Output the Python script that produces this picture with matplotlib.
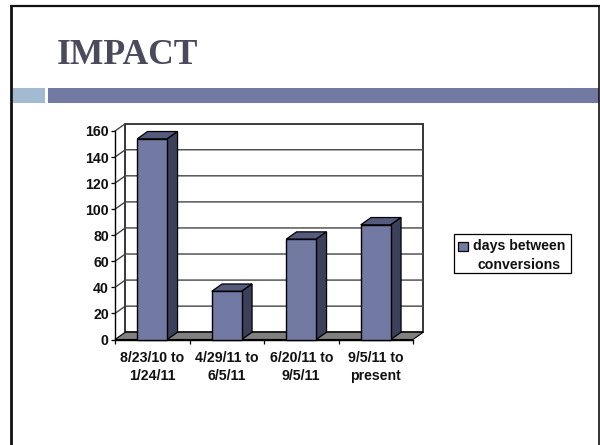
import matplotlib
matplotlib.use("Agg")
import matplotlib.pyplot as plt
from matplotlib.patches import Rectangle

categories = ["8/23/10 to\n1/24/11", "4/29/11 to\n6/5/11", "6/20/11 to\n9/5/11", "9/5/11 to\npresent"]
days = [154, 37, 77, 88]
yticks = [0, 20, 40, 60, 80, 100, 120, 140, 160]
series_name = "days between\nconversions"
title = "IMPACT"

FRONT = "#7279a3"
SIDE = "#3c405a"
TOP = "#555b7d"
FLOOR = "#808080"
LIGHT = "#a2bbd2"
FS = 10.2

plt.rcParams["font.family"] = ["Liberation Sans", "DejaVu Sans"]
fig = plt.figure(figsize=(6, 4.45), dpi=100)

# slide decoration, pixel coordinates
bg = fig.add_axes([0, 0, 1, 1])
bg.set_xlim(0, 600)
bg.set_ylim(445, 0)
bg.axis("off")
bg.plot([11.3, 11.3], [445, 6], color="#111111", lw=2.0, solid_capstyle="butt")
bg.plot([10, 600], [6, 6], color="#111111", lw=1.6, solid_capstyle="butt")
bg.plot([599.2, 599.2], [5, 445], color="#111111", lw=1.2, solid_capstyle="butt")
bg.add_patch(Rectangle((12.5, 88), 32.5, 14.7, color=LIGHT, lw=0))
bg.add_patch(Rectangle((48, 88), 550.5, 14.7, color=FRONT, lw=0))
bg.text(56.5, 64.5, title, family=["Liberation Serif", "DejaVu Serif"], fontsize=25.6,
        fontweight="bold", color="#4a4a5c", va="baseline", ha="left")

# legend box
bg.add_patch(Rectangle((453.5, 234), 117, 38.5, facecolor="white", edgecolor="black", lw=0.9))
bg.add_patch(Rectangle((458.3, 241.7), 9.5, 9.2, facecolor=FRONT, edgecolor="black", lw=0.9))
bg.text(519.5, 255.5, series_name, fontsize=FS, fontweight="bold", ha="center", va="center",
        multialignment="center", linespacing=1.37, color="#111111")

# front plane of the 3d chart
ax = fig.add_axes([115 / 600, (445 - 339.5) / 445, 298 / 600, 208.5 / 445])
ax.patch.set_alpha(0)
ax.set_xlim(-0.5, 3.5)
ax.set_ylim(0, 160)
x = list(range(len(days)))

# depth of the 3d effect in data units
dx = 10.3 / 74.5
dy = 5.6
x0, x1 = -0.5, 3.5

# back wall, left wall and floor
ax.fill([x0 + dx, x1 + dx, x1 + dx, x0 + dx], [dy, dy, 160 + dy, 160 + dy],
        facecolor="white", edgecolor="black", lw=1.1, clip_on=False, zorder=1)
ax.fill([x0, x1, x1 + dx, x0 + dx], [0, 0, dy, dy],
        facecolor=FLOOR, edgecolor="black", lw=0.8, clip_on=False, zorder=2)
for t in yticks[1:]:
    ax.plot([x0, x0 + dx, x1 + dx], [t, t + dy, t + dy], color="#444444", lw=1.0,
            clip_on=False, zorder=2)

# bars
w = 30 / 74.5
ax.bar(x, days, width=w, color=FRONT, edgecolor="black", lw=1.0, zorder=5, clip_on=False)
for i, v in zip(x, days):
    l, r = i - w / 2, i + w / 2
    ax.fill([l, r, r + dx, l + dx], [v, v, v + dy, v + dy], facecolor=TOP,
            edgecolor="black", lw=0.9, clip_on=False, zorder=4)
    ax.fill([r, r + dx, r + dx, r], [0, dy, v + dy, v], facecolor=SIDE,
            edgecolor="black", lw=0.9, clip_on=False, zorder=4)

for s in ["top", "right"]:
    ax.spines[s].set_visible(False)
ax.spines["left"].set_linewidth(1.0)
ax.spines["bottom"].set_linewidth(1.0)
ax.spines["left"].set_zorder(3)
ax.spines["bottom"].set_zorder(3)

ax.set_yticks(yticks)
ax.set_xticks([-0.5, 0.5, 1.5, 2.5, 3.5])
ax.set_xticklabels([])
ax.set_xticks(x, minor=True)
ax.set_xticklabels(categories, minor=True, fontsize=FS, fontweight="bold", linespacing=1.37,
                   color="#111111")
ax.tick_params(axis="x", which="minor", length=0, pad=8)
ax.tick_params(axis="x", which="major", length=3, width=0.9)
ax.tick_params(axis="y", length=3, width=0.9, pad=1.5, labelsize=FS)
for lab in ax.get_yticklabels():
    lab.set_fontweight("bold")
    lab.set_color("#111111")

fig.savefig("out.png", dpi=100)
